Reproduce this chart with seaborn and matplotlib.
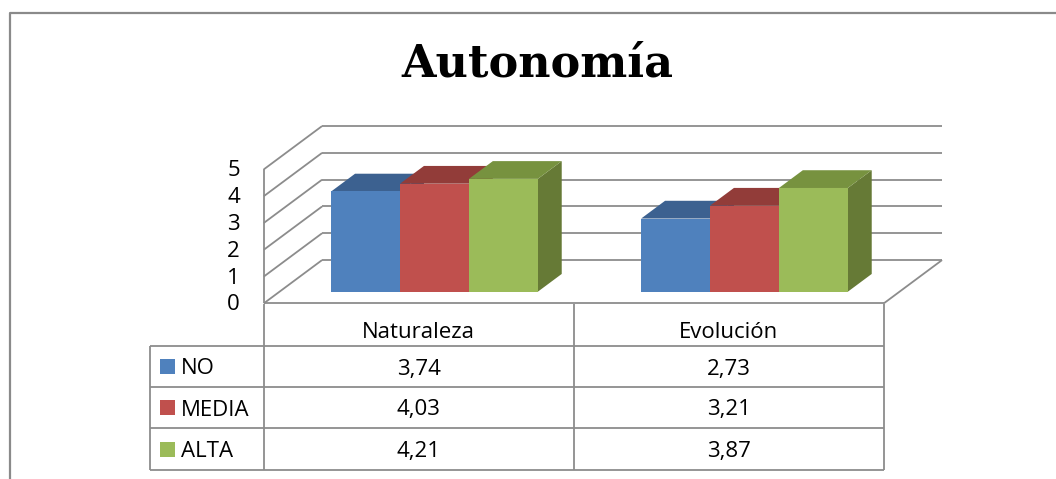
import numpy as np
import pandas as pd
import matplotlib
matplotlib.use("Agg")
import matplotlib.pyplot as plt
from matplotlib.patches import Polygon, Rectangle
import seaborn as sns

categories = ["Naturaleza", "Evolución"]
series = ["NO", "MEDIA", "ALTA"]
no_vals = [3.74, 2.73]
media_vals = [4.03, 3.21]
alta_vals = [4.21, 3.87]
y_ticks = [0, 1, 2, 3, 4, 5]
title = "Autonomía"

front_colors = ["#4F81BD", "#C0504D", "#9BBB59"]
top_colors = ["#3C6190", "#923C39", "#77923F"]
side_colors = ["#3A5A85", "#873734", "#667A36"]
GRID = "#8C8C8C"
FONT = "Open Sans"
FS = 16
W, H = 1056, 479

# oblique "3D" projection: one full depth unit shifts by (KX, KV) in data units
KX, KV = 0.188, 1.616
D0, D1 = 0.27, 0.68   # depth of bar front / back faces


def proj(x, v, d):
    return x + (d - D0) * KX, v + (d - D0) * KV


rows = []
for s, vals in zip(series, [no_vals, media_vals, alta_vals]):
    for c, v in zip(categories, vals):
        rows.append({"categoria": c, "serie": s, "valor": v})
df = pd.DataFrame(rows)

sns.set_style("white")
plt.rcParams['font.family'] = [FONT, 'DejaVu Sans']
plt.rcParams['text.color'] = 'black'

fig = plt.figure(figsize=(W / 100, H / 100), dpi=100)
over = fig.add_axes([0, 0, 1, 1])
over.set_xlim(0, W)
over.set_ylim(H, 0)
over.axis('off')

ax = fig.add_axes([248.5 / W, (H - 291.7) / H, 682 / W, 134 / H])
sns.barplot(data=df, x="categoria", y="valor", hue="serie", order=categories,
            hue_order=series, palette=front_colors, saturation=1, width=2 / 3,
            legend=False, ax=ax, zorder=3, linewidth=0)
ax.set_xlim(-0.6, 1.6)
ax.set_ylim(0, 5)
ax.set_axis_off()
ax.patch.set_visible(False)


def line3d(p, q, **kw):
    a, b = proj(*p), proj(*q)
    ax.plot([a[0], b[0]], [a[1], b[1]], color=GRID, lw=1.3, zorder=1,
            clip_on=False, solid_capstyle='butt', **kw)


# walls and floor
for v in y_ticks:
    line3d((-0.5, v, 1), (1.5, v, 1))
    line3d((-0.5, v, 0), (-0.5, v, 1))
line3d((-0.5, 0, 0), (-0.5, 5, 0))
line3d((-0.5, 0, 0), (1.5, 0, 0))
line3d((1.5, 0, 0), (1.5, 0, 1))

# top and side faces of the bars
for i, cont in enumerate(ax.containers):
    for bar in cont:
        x0, w, h = bar.get_x(), bar.get_width(), bar.get_height()
        side = [proj(x0 + w, 0, D0), proj(x0 + w, h, D0),
                proj(x0 + w, h, D1), proj(x0 + w, 0, D1)]
        top = [proj(x0, h, D0), proj(x0 + w, h, D0),
               proj(x0 + w, h, D1), proj(x0, h, D1)]
        ax.add_patch(Polygon(side, closed=True, fc=side_colors[i], ec='none',
                             zorder=2 + 0.1 * i, clip_on=False))
        ax.add_patch(Polygon(top, closed=True, fc=top_colors[i], ec='none',
                             zorder=2.05 + 0.1 * i, clip_on=False))


def to_px(x, v, d):
    disp = ax.transData.transform(proj(x, v, d))
    return over.transData.inverted().transform(disp)


# y tick labels on the front-left edge
for v in y_ticks:
    px, py = to_px(-0.5, v, 0)
    over.text(px - 24, py + 1.5, str(v), ha='right', va='center', fontsize=FS)

# data table
col_x = [to_px(e, 0, 0)[0] for e in [-0.5, 0.5, 1.5]]
row_y = [304, 345.7, 386.5, 428, 470]
left_x = 150
lkw = dict(color=GRID, lw=1.3, solid_capstyle='butt')
for y in row_y[1:]:
    over.plot([left_x, col_x[-1]], [y, y], **lkw)
for x in col_x:
    over.plot([x, x], [row_y[0], row_y[-1]], **lkw)
over.plot([left_x, left_x], [row_y[1], row_y[-1]], **lkw)

for j, c in enumerate(categories):
    cx = (col_x[j] + col_x[j + 1]) / 2
    over.text(cx, 338, c, ha='center', va='baseline', fontsize=FS)
baselines = [374.5, 415.5, 457]
for i, (s, vals) in enumerate(zip(series, [no_vals, media_vals, alta_vals])):
    yc = (row_y[i + 1] + row_y[i + 2]) / 2
    over.add_patch(Rectangle((160, yc - 7.5), 15, 15, fc=front_colors[i], ec='none'))
    over.text(181, baselines[i], s, ha='left', va='baseline', fontsize=FS)
    for j, v in enumerate(vals):
        cx = (col_x[j] + col_x[j + 1]) / 2
        over.text(cx, baselines[i], f"{v:.2f}".replace('.', ','), ha='center',
                  va='baseline', fontsize=FS)

# title and outer frame
over.text(537.5, 76.7, title, ha='center', va='baseline', fontsize=32,
          fontweight='bold', family=['DejaVu Serif'])
over.plot([9.5, 9.5, W], [H, 13, 13], color="#8A8A8A", lw=1.6)

fig.savefig("out.png", dpi=100)
